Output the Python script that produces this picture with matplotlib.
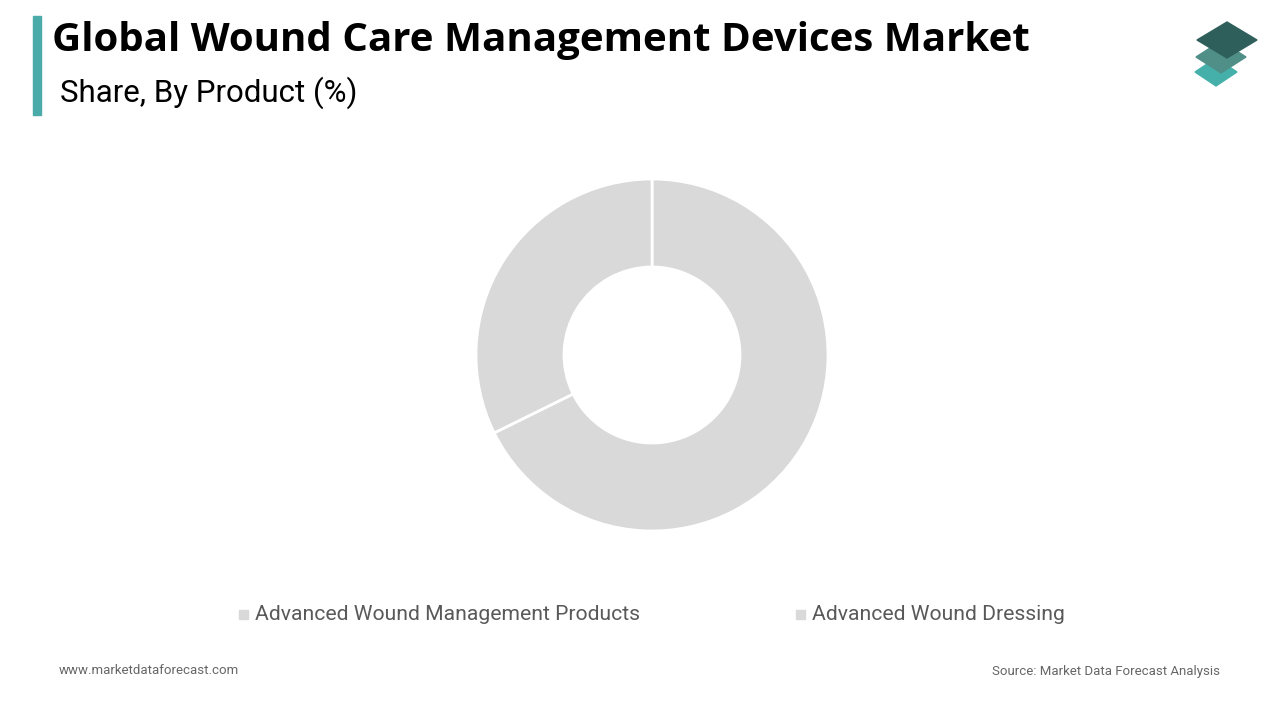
import matplotlib.pyplot as plt
from matplotlib.patches import Rectangle, Polygon

# data
products = ["Advanced Wound Management Products", "Advanced Wound Dressing"]
shares = [67.7, 32.3]
slice_colors = ["#d9d9d9", "#d9d9d9"]

title = "Global Wound Care Management Devices Market"
subtitle = "Share, By Product (%)"
footer_left = "www.marketdataforecast.com"
footer_right = "Source: Market Data Forecast Analysis"

W, H = 1280, 720
fig = plt.figure(figsize=(12.8, 7.2), dpi=100)
fig.patch.set_facecolor("white")

# donut
cx, cy, r = 652, 355, 176
ax = fig.add_axes([(cx - r) / W, (H - cy - r) / H, 2 * r / W, 2 * r / H])
ax.pie(shares, colors=slice_colors, startangle=90, counterclock=False,
       wedgeprops=dict(width=0.5, edgecolor="white", linewidth=2))
ax.set_xlim(-1, 1)
ax.set_ylim(-1, 1)
ax.set_aspect("equal")
ax.axis("off")

# accent bar + titles
fig.patches.append(Rectangle((33 / W, 1 - 115 / H), 8 / W, 99 / H,
                             transform=fig.transFigure, color="#4aaba8"))
fig.text(52 / W, 1 - 41 / H, title, fontsize=29, fontweight="bold",
         family="Open Sans", color="black", va="center")
fig.text(60 / W, 1 - 93 / H, subtitle, fontsize=22.5, family="Roboto",
         color="black", va="center")

# logo
def rhomb(xc, yc, w, h, color):
    pts = [(xc - w / 2, yc), (xc, yc - h / 2), (xc + w / 2, yc), (xc, yc + h / 2)]
    pts = [(x / W, 1 - y / H) for x, y in pts]
    fig.patches.append(Polygon(pts, closed=True, transform=fig.transFigure,
                               color=color))

rhomb(1216, 72, 42, 28, "#45b0aa")
rhomb(1221, 57, 50, 32, "#4f8f88")
rhomb(1227, 40, 60, 36, "#2f5f5b")

# legend
leg_y = 1 - 614 / H
for x_sq, label in zip([243, 800], products):
    fig.patches.append(Rectangle(((x_sq - 4) / W, leg_y - 4.5 / H), 9 / W, 9 / H,
                                 transform=fig.transFigure, color="#d9d9d9"))
    fig.text((x_sq + 12) / W, leg_y, label, fontsize=15.2, family="Roboto",
             color="#595959", va="center")

# footer
fig.text(59 / W, 1 - 671 / H, footer_left, fontsize=9.5, family="Roboto",
         color="#666666", va="center")
fig.text(1220 / W, 1 - 671 / H, footer_right, fontsize=9.5, family="Roboto",
         color="#666666", va="center", ha="right")

fig.savefig("out.png", dpi=100, facecolor="white")
